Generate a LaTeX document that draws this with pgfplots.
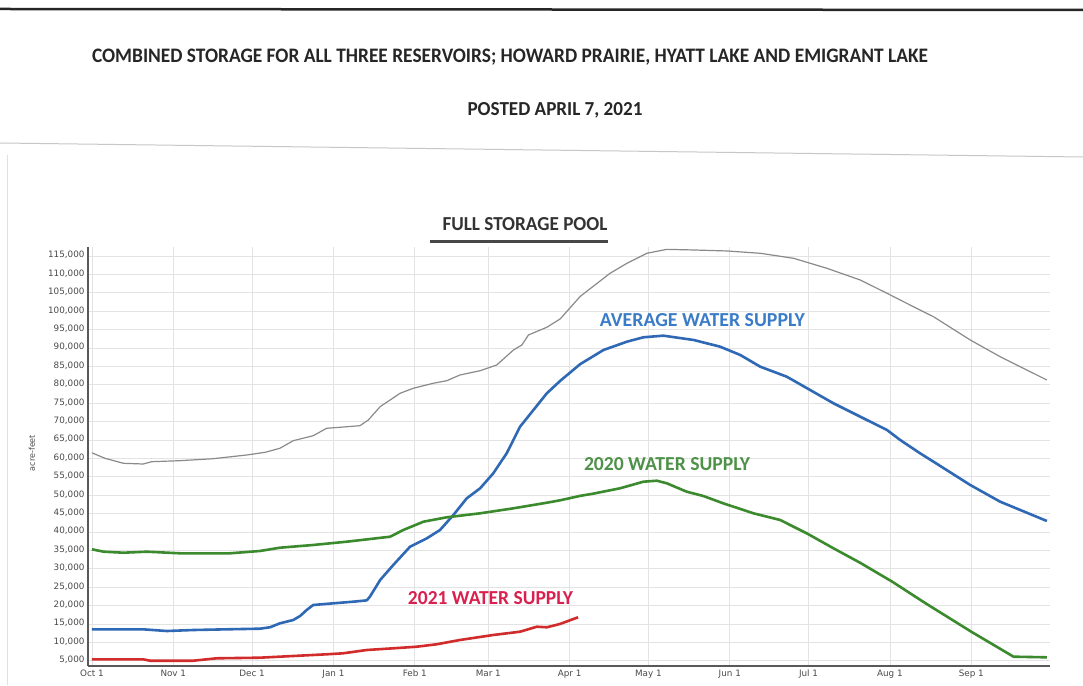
\documentclass[border=0pt]{standalone}
\usepackage{fontspec}
\setmainfont{Carlito}
\newfontfamily\dejavu{DejaVu Sans}
\usepackage{graphicx}
\usepackage{pgfplots}
\pgfplotsset{compat=1.18}

\definecolor{poolgray}{HTML}{8A8A8A}
\definecolor{avgblue}{HTML}{2F68B5}
\definecolor{avglabel}{HTML}{3A7CC8}
\definecolor{grn}{HTML}{3C8A2E}
\definecolor{grnlabel}{HTML}{4E9148}
\definecolor{rd}{HTML}{D22B2B}
\definecolor{rdlabel}{HTML}{D9204F}
\definecolor{ticktext}{HTML}{4A4A4A}

\begin{document}
\begin{tikzpicture}[x=1pt,y=1pt]
\path[use as bounding box, fill=white] (0,0) rectangle (1083,685);
% scan edges
\draw[black!85, line width=2.5pt] (0,676) -- (1083,675);
\draw[black!22, line width=1pt] (0,542) -- (1083,528);
\draw[black!12, line width=0.8pt] (7,0) -- (7,530);
% titles
\node[text=black!85, inner sep=0pt] at (510,628) {\resizebox{836pt}{13.5pt}{\bfseries COMBINED STORAGE FOR ALL THREE RESERVOIRS; HOWARD PRAIRIE, HYATT LAKE AND EMIGRANT LAKE}};
\node[text=black!85, inner sep=0pt] at (555,575) {\resizebox{175pt}{13pt}{\bfseries POSTED APRIL 7, 2021}};
\node[text=black!80, inner sep=0pt] at (525,461) {\resizebox{165pt}{13pt}{\bfseries FULL STORAGE POOL}};
\draw[black!72, line width=3pt] (430,443) -- (608,443);

\begin{axis}[
  scale only axis, width=962pt, height=419pt,
  at={(88pt,19pt)}, anchor=south west,
  xmin=-1.5, xmax=365, ymin=3560, ymax=117440,
  axis lines=left, axis line style={-, draw=black!65, line width=1.3pt},
  xtick={0,31,61,92,123,151,182,212,243,273,304,335},
  xticklabels={Oct 1,Nov 1,Dec 1,Jan 1,Feb 1,Mar 1,Apr 1,May 1,Jun 1,Jul 1,Aug 1,Sep 1},
  ytick={5000,10000,...,115000},
  scaled y ticks=false,
  major tick length=0pt,
  grid=major, grid style={draw=black!11, line width=0.8pt},
  typeset ticklabels with strut,
  tick label style={font=\dejavu\fontsize{8.8}{10}\selectfont, text=ticktext},
  yticklabel style={/pgf/number format/.cd, fixed, 1000 sep={,}, assume math mode=true},
  xticklabel style={yshift=0pt},
  clip=false,
]
% full storage pool
\addplot[color=poolgray, line width=1.2pt, line join=round] coordinates {
(0,61500) (5,60000) (12,58650) (19.5,58460) (22.8,59090) (33.5,59360) (46.2,59900)
(59,60910) (66,61640) (71.6,62730) (76.7,64800) (84.3,66150) (89.4,68170) (94.5,68440)
(102.1,68870) (105.3,70420) (109.8,74040) (117.4,77680) (122.4,79040) (130,80400)
(135.2,81100) (140.2,82650) (147.9,83820) (154.2,85370) (160.6,89450) (163.8,90810)
(166.3,93530) (173.3,95620) (178.4,97900) (186,104000) (197.4,110300) (203.8,113000)
(211.4,115730) (219,116800) (229.2,116630) (241.9,116360) (254.6,115730) (267.3,114370)
(280,111650) (292.7,108470) (302.9,104860) (307.9,103040) (315.5,100300) (320.6,98500)
(334.6,92170) (346,87630) (363.8,81290)
};
% average water supply
\addplot[color=avgblue, line width=2.6pt, line join=round] coordinates {
(0,13530) (19.5,13530) (28.5,13070) (38.6,13340) (51.3,13530) (64,13700) (67.8,14080)
(71.6,15160) (76.7,16060) (79.3,17150) (81.8,18780) (84.3,20140) (92,20600) (99.6,21040)
(104.7,21400) (105.9,22400) (109.8,26930) (114.8,31010) (121.2,35990) (127.6,38270)
(132.6,40520) (137.7,44600) (142.8,49140) (147.9,51860) (152.9,55930) (158,61370)
(163.1,68600) (168.2,73140) (173.3,77680) (178.4,81060) (186,85600) (194.9,89450)
(203.8,91700) (210.1,92900) (217.7,93340) (229.2,92170) (239.3,90350) (247,88090)
(254.6,84910) (264.7,82190) (273.6,78580) (282.5,74960) (292.7,71320) (302.9,67700)
(307.9,65000) (315.5,61370) (320.6,59090) (334.6,52760) (346,48220) (363.8,42970)
};
% 2020 water supply
\addplot[color=grn, line width=2.6pt, line join=round] coordinates {
(0,35280) (4.4,34630) (12,34350) (20.9,34630) (33.5,34190) (52.6,34190) (64,34820)
(71.6,35710) (84.3,36450) (97,37340) (113.6,38700) (118.6,40520) (126.3,42780)
(135.2,43980) (147.9,45060) (160.6,46420) (173.3,47940) (178.4,48600) (186,49800)
(191,50400) (201.2,51860) (210.1,53650) (215.2,53920) (219,53220) (226.6,50930)
(232.9,49770) (240.5,47780) (252,45060) (262.2,43240) (272.3,39630) (282.5,35550)
(292.7,31600) (304.9,26470) (317.6,20600) (335,12880) (351.1,6090) (363.8,5920)
};
% 2021 water supply
\addplot[color=rd, line width=2.6pt, line join=round] coordinates {
(0,5380) (19.5,5380) (22.1,5000) (38.6,5000) (47.5,5650) (64,5820) (76.7,6280)
(89.4,6740) (95.7,7010) (104.7,7910) (114.8,8370) (123.7,8800) (131.3,9460)
(140.2,10630) (152.9,11990) (163.1,12880) (169.5,14240) (173.3,14080) (178.4,15000)
(185.2,16800)
};
\end{axis}
% series labels
\node[text=avglabel, inner sep=0pt] at (702.5,365) {\resizebox{205pt}{13pt}{\bfseries AVERAGE WATER SUPPLY}};
\node[text=grnlabel, inner sep=0pt] at (667,221) {\resizebox{166pt}{13pt}{\bfseries 2020 WATER SUPPLY}};
\node[text=rdlabel, inner sep=0pt] at (490.5,87) {\resizebox{165pt}{13pt}{\bfseries 2021 WATER SUPPLY}};
% y axis label
\node[rotate=90, text=ticktext, inner sep=0pt, font=\dejavu\fontsize{8}{9}\selectfont] at (32,232) {acre-feet};
\end{tikzpicture}
\end{document}
